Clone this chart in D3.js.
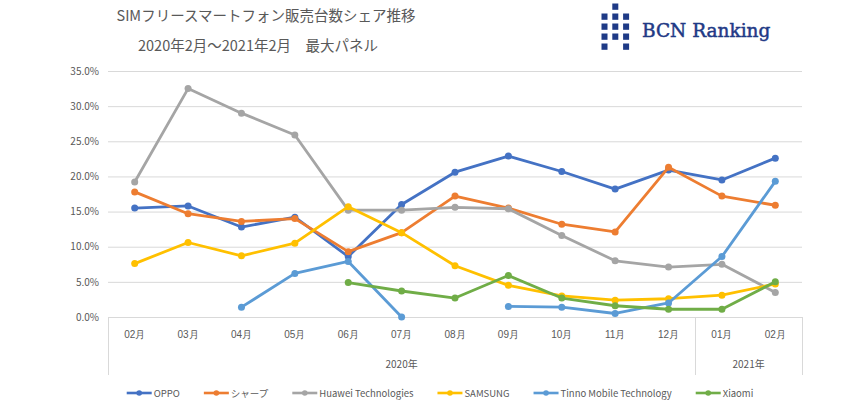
<!DOCTYPE html>
<html><head><meta charset="utf-8">
<script src="https://cdn.jsdelivr.net/npm/d3@7"></script>
<style>
html,body{margin:0;padding:0;background:#fff;}
svg{display:block;font-family:"Noto Sans CJK JP","Noto Sans",sans-serif;}
</style></head>
<body><svg id="c" width="862" height="403"></svg>
<script>
// ---- data ----
const months = ["02月","03月","04月","05月","06月","07月","08月","09月","10月","11月","12月","01月","02月"];
const years = [{label:"2020年", from:0, to:11},{label:"2021年", from:11, to:13}];
const yTicks = [0,0.05,0.10,0.15,0.20,0.25,0.30,0.35];
const seriesNames = ["OPPO","シャープ","Huawei Technologies","SAMSUNG","Tinno Mobile Technology","Xiaomi"];
const oppo    = [15.5,15.8,12.8,14.2,8.6,16.0,20.6,22.9,20.7,18.2,20.9,19.5,22.6];
const sharp   = [17.8,14.7,13.6,14.0,9.3,12.0,17.2,15.5,13.2,12.1,21.3,17.2,15.9];
const huawei  = [19.2,32.5,29.0,25.9,15.2,15.2,15.6,15.4,11.6,8.0,7.1,7.5,3.5];
const samsung = [7.6,10.6,8.7,10.5,15.7,12.0,7.3,4.5,3.0,2.4,2.6,3.1,4.7];
const tinno   = [null,null,1.4,6.2,7.9,0.0,null,1.5,1.4,0.5,2.0,8.6,19.3];
const xiaomi  = [null,null,null,null,4.9,3.7,2.7,5.9,2.7,1.6,1.1,1.1,5.0];
const colors  = ["#4472C4","#ED7D31","#A5A5A5","#FFC000","#5B9BD5","#70AD47"];

const allSeries = [oppo,sharp,huawei,samsung,tinno,xiaomi].map((v,i)=>({name:seriesNames[i],color:colors[i],values:v.map(d=>d==null?null:d/100)}));

const svg = d3.select("#c");
const textCol = "#595959";

// ---- title ----
const title = svg.append("g").attr("fill",textCol).attr("font-size",14.5).attr("text-anchor","middle");
title.append("text").attr("x",266).attr("y",21).text("SIMフリースマートフォン販売台数シェア推移");
title.append("text").attr("x",258).attr("y",51).text("2020年2月～2021年2月　最大パネル");

// ---- logo ----
const logoPattern = [[0,1,0],[1,1,1],[1,1,1],[1,1,1],[1,0,1]];
const logo = svg.append("g").attr("fill","#1F3A86");
logoPattern.forEach((row,r)=>row.forEach((on,c)=>{
  if(on) logo.append("rect").attr("x",601.5+c*10.8).attr("y",3.5+r*10).attr("width",6).attr("height",6.3);
}));
svg.append("text").attr("x",642).attr("y",37).attr("font-family","'DejaVu Serif',serif")
  .attr("font-size",18.5).attr("fill","#1F3A86").attr("stroke","#1F3A86").attr("stroke-width",0.5).text("BCN Ranking");

// ---- scales ----
const x = d3.scaleBand().domain(d3.range(months.length)).range([108,802]).padding(0);
const y = d3.scaleLinear().domain([0,0.35]).range([317,71]);
const cx = i => x(i)+x.bandwidth()/2;

// gridlines
svg.append("g").selectAll("line").data(yTicks).join("line")
  .attr("x1",108).attr("x2",802).attr("y1",d=>y(d)+0.5).attr("y2",d=>y(d)+0.5)
  .attr("stroke","#D9D9D9").attr("stroke-width",1);

// y axis labels
const yAxis = d3.axisLeft(y).tickValues(yTicks).tickFormat(d3.format(".1%")).tickSize(0).tickPadding(9);
const ya = svg.append("g").attr("transform","translate(108,0)").call(yAxis);
ya.select(".domain").remove();
ya.selectAll("text").attr("fill",textCol).attr("font-size",10).attr("font-family","'Noto Sans CJK JP',sans-serif");

// category axis box
const catG = svg.append("g").attr("stroke","#D9D9D9").attr("stroke-width",1);
[0,11,13].forEach(b=>{
  const xx = (b<13? x(b) : x.range()[1]);
  catG.append("line").attr("x1",Math.round(xx)+0.5).attr("x2",Math.round(xx)+0.5).attr("y1",317).attr("y2",375);
});
const xa = svg.append("g").attr("transform","translate(0,317)")
  .call(d3.axisBottom(x).tickFormat(i=>months[i]).tickSize(0).tickPadding(14));
xa.select(".domain").remove();
xa.selectAll("text").attr("fill",textCol).attr("font-size",10);
svg.append("g").selectAll("text").data(years).join("text")
  .attr("x",d=>(x(d.from)+(d.to<months.length?x(d.to):x.range()[1]))/2)
  .attr("y",368).attr("text-anchor","middle").attr("fill",textCol).attr("font-size",10)
  .text(d=>d.label);

// ---- lines ----
const line = d3.line().defined(d=>d!=null).x((d,i)=>cx(i)).y(d=>y(d));
const sg = svg.append("g").selectAll("g").data(allSeries).join("g");
sg.append("path").attr("d",d=>line(d.values)).attr("fill","none")
  .attr("stroke",d=>d.color).attr("stroke-width",2.8).attr("stroke-linejoin","round").attr("stroke-linecap","round");
sg.each(function(s){
  d3.select(this).selectAll("circle").data(s.values.map((v,i)=>({v,i})).filter(d=>d.v!=null)).join("circle")
    .attr("cx",d=>cx(d.i)).attr("cy",d=>y(d.v)).attr("r",3.5).attr("fill",s.color);
});

// ---- legend ----
const lg = svg.append("g").attr("font-size",9.5).attr("fill",textCol);
const items = [];
let lx = 0;
allSeries.forEach(s=>{
  const g = lg.append("g");
  g.append("line").attr("x1",0).attr("x2",25).attr("y1",0).attr("y2",0).attr("stroke",s.color).attr("stroke-width",2.6);
  g.append("circle").attr("cx",12.5).attr("cy",0).attr("r",2.8).attr("fill",s.color);
  const t = g.append("text").attr("x",27).attr("y",3.5).text(s.name);
  const w = 27 + t.node().getComputedTextLength();
  items.push({g,w});
});
const gap = 24;
const total = d3.sum(items,d=>d.w)+gap*(items.length-1);
lx = 440 - total/2;
items.forEach(it=>{ it.g.attr("transform",`translate(${lx},393)`); lx += it.w+gap; });
</script></body></html>
